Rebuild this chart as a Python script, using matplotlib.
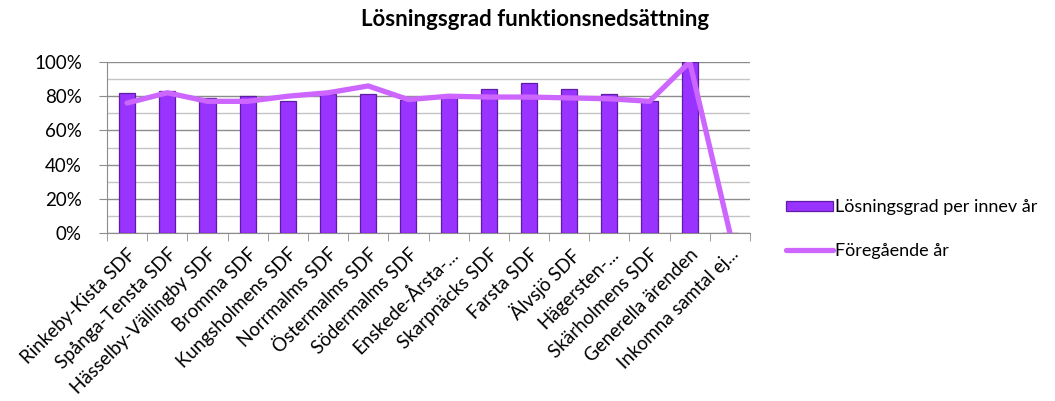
import matplotlib.pyplot as plt
from matplotlib.ticker import MultipleLocator, PercentFormatter

plt.rcParams['font.family'] = ['Lato', 'DejaVu Sans']

omraden = ["Rinkeby-Kista SDF", "Spånga-Tensta SDF", "Hässelby-Vällingby SDF",
           "Bromma SDF", "Kungsholmens SDF", "Norrmalms SDF", "Östermalms SDF",
           "Södermalms SDF", "Enskede-Årsta-...", "Skarpnäcks SDF", "Farsta SDF",
           "Älvsjö SDF", "Hägersten-...", "Skärholmens SDF", "Generella ärenden",
           "Inkomna samtal ej..."]
losningsgrad = [82, 83, 79, 80, 77, 81, 81, 78, 80, 84, 88, 84, 81, 77, 100, 0]
foregaende = [76, 82, 77, 77, 80, 82, 86, 78, 80, 79.5, 79.5, 79, 78.5, 77, 100, 0]


def main():
    fig = plt.figure(figsize=(10.55, 4.01), dpi=100)
    ax = fig.add_axes([107 / 1055, 1 - 233 / 401, 643 / 1055, 171 / 401])

    x = list(range(len(omraden)))
    staaf = ax.bar(x, losningsgrad, width=0.4, color="#9933ff", edgecolor="#5f1ca6",
                   linewidth=0.9, label="Lösningsgrad per innev år", zorder=3)
    lijn, = ax.plot(x, foregaende, color="#cc66ff", linewidth=3.8,
                    solid_capstyle="round", label="Föregående år", zorder=4)

    ax.set_xlim(-0.5, len(omraden) - 0.5)
    ax.set_ylim(0, 100)
    ax.yaxis.set_major_locator(MultipleLocator(20))
    ax.yaxis.set_minor_locator(MultipleLocator(10))
    ax.yaxis.set_major_formatter(PercentFormatter(decimals=0))
    ax.grid(which="major", axis="y", color="#8c8c8c", linewidth=1, zorder=0)
    ax.grid(which="minor", axis="y", color="#c4c4c4", linewidth=1, zorder=0)
    ax.tick_params(axis="y", which="minor", length=0)
    ax.tick_params(axis="y", which="major", length=6, color="#8c8c8c",
                   labelsize=13.5, pad=12)

    ax.set_xticks(x)
    ax.set_xticklabels(omraden, rotation=45, ha="right", rotation_mode="anchor",
                       fontsize=13.5)
    ax.set_xticks([i - 0.5 for i in range(len(omraden) + 1)], minor=True)
    ax.tick_params(axis="x", which="major", length=0, pad=9)
    ax.tick_params(axis="x", which="minor", length=6, color="#8c8c8c")

    for s in ["top", "right"]:
        ax.spines[s].set_visible(False)
    for s in ["left", "bottom"]:
        ax.spines[s].set_color("#8c8c8c")

    fig.text(535 / 1055, 1 - 20 / 401, "Lösningsgrad funktionsnedsättning",
             ha="center", va="center", fontsize=16, fontweight="bold")

    fig.legend([staaf, lijn], ["Lösningsgrad per innev år", "Föregående år"],
               loc="center left", bbox_to_anchor=(770 / 1055, 1 - 229 / 401),
               frameon=False, fontsize=13, handlelength=2.6, handleheight=0.5,
               handletextpad=0.1, labelspacing=1.5)

    fig.savefig("out.png", dpi=100)


main()
